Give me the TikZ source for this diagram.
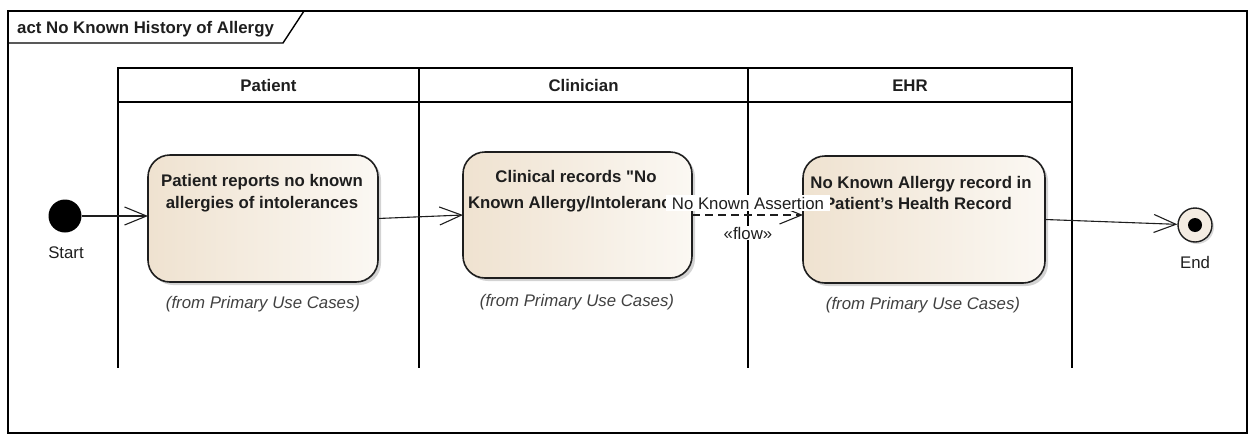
\documentclass[tikz,border=0pt]{standalone}
\usepackage{fontspec}
\setmainfont{Liberation Sans}[Ligatures=TeXOff]
\usetikzlibrary{arrows.meta,shadows}
\definecolor{boxdark}{HTML}{EFE2D0}
\definecolor{boxlight}{HTML}{FBF8F3}
\definecolor{endfill}{HTML}{F4ECE2}
\definecolor{ink}{HTML}{1E1E1E}
\begin{document}
\begin{tikzpicture}[x=1pt,y=-1pt,
  font=\fontsize{16.8}{20}\selectfont,
  actbox/.style={draw=ink, line width=1.6pt, rounded corners=22pt,
    left color=boxdark, right color=boxlight,
    drop shadow={shadow xshift=3pt,shadow yshift=-3pt,opacity=0.35},
    inner sep=0pt, outer sep=0pt},
  boxtext/.style={anchor=base, font=\fontsize{16.8}{20}\selectfont\bfseries, text=ink, inner sep=0pt},
  fromtext/.style={anchor=base, font=\fontsize{16.8}{20}\selectfont\itshape, text=ink!85, inner sep=0pt},
  headtext/.style={anchor=base, font=\fontsize{16.8}{20}\selectfont\bfseries, text=ink, inner sep=0pt},
  plaintext/.style={anchor=base, text=ink, inner sep=0pt},
  lane/.style={line width=1.6pt, draw=black},
  framestyle/.style={line width=1.4pt, draw=black},
  flowline/.style={line width=1.1pt, draw=ink, -{Straight Barb[length=22pt,width=18pt]}},
  objflow/.style={flowline, dash pattern=on 8pt off 5pt},
  whitelabel/.style={fill=white, text=ink, inner ysep=1.5pt, inner xsep=6pt}
]
\useasboundingbox (0,0) rectangle (1249,434);

% frame
\draw[framestyle] (8,11) rectangle (1247,433);
\draw[framestyle] (8,43) -- (283,43) -- (304,11);
\node[anchor=base west, font=\fontsize{16.8}{20}\selectfont\bfseries, text=ink, inner sep=0pt] (title) at (17,33) {act No Known History of Allergy};

% swimlanes
\draw[lane] (118,68) rectangle (1072,102);
\foreach \xx in {118,419,748,1072} { \draw[lane] (\xx,68) -- (\xx,368); }
\node[headtext] (hpatient) at (268.5,91) {Patient};
\node[headtext] (hclin) at (583.5,91) {Clinician};
\node[headtext] (hehr) at (910,91) {EHR};

% start / end
\node[circle, fill=black, minimum size=33pt, inner sep=0pt] (start) at (65,216) {};
\node[plaintext] (startlbl) at (66,258) {Start};
\node[circle, draw=ink, line width=1.4pt, fill=endfill, minimum size=34pt, inner sep=0pt,
  drop shadow={shadow xshift=2pt,shadow yshift=-2pt,opacity=0.3}] (end) at (1195,225) {};
\node[circle, fill=black, minimum size=14pt, inner sep=0pt] (enddot) at (end.center) {};
\node[plaintext] (endlbl) at (1195,268) {End};

% actions
\node[actbox, minimum width=230pt, minimum height=127pt] (P) at (263,218.5) {};
\node[actbox, minimum width=229pt, minimum height=126pt] (C) at (577.5,215) {};
\node[actbox, minimum width=242pt, minimum height=127pt] (E) at (924,219.5) {};

\node[boxtext] (p1) at (262,186) {Patient reports no known};
\node[boxtext] (p2) at (262,208) {allergies of intolerances};
\node[fromtext] (pf) at (263,308) {(from Primary Use Cases)};

\node[boxtext] (c1) at (576,182) {Clinical records "No};
\node[boxtext] (c2) at (578,208) {Known Allergy/Intolerance"};
\node[fromtext] (cf) at (577,306) {(from Primary Use Cases)};

\node[boxtext] (e1) at (921,188) {No Known Allergy record in};
\node[boxtext] (e2) at (918,209) {Patient’s Health Record};
\node[fromtext] (ef) at (923,309) {(from Primary Use Cases)};

% connectors
\draw[flowline] (start) -- (start -| P.west);
\draw[flowline] (P.east) -- (C.west);
\draw[objflow] (C.east) -- (C.east -| E.west);
\draw[flowline] (E.east) -- (end);

% flow labels
\node[whitelabel] (assert) at (748,203) {No Known Assertion};
\node[whitelabel, inner xsep=1pt, inner ysep=1pt] (flowlbl) at (748,233) {«flow»};
\end{tikzpicture}
\end{document}
